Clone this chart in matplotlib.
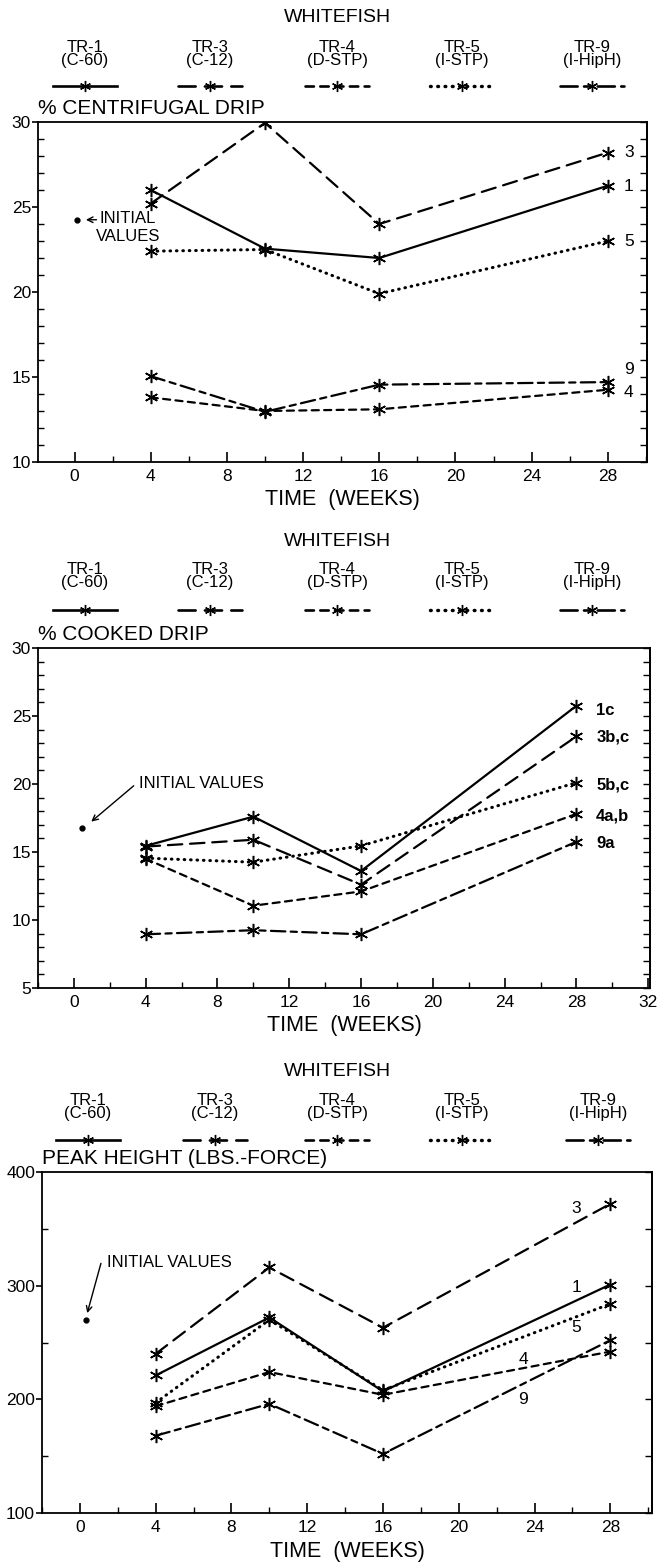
import matplotlib
matplotlib.use('Agg')
import matplotlib.pyplot as plt
from matplotlib.lines import Line2D
from matplotlib.ticker import MultipleLocator

# 글꼴 설정
plt.rcParams['font.family'] = ['Liberation Sans', 'DejaVu Sans']

W, H = 665, 1563

# 측정 시점 (주)
weeks = [4, 10, 16, 28]
treatments = ['TR-1', 'TR-3', 'TR-4', 'TR-5', 'TR-9']
treat_codes = ['(C-60)', '(C-12)', '(D-STP)', '(I-STP)', '(I-HipH)']

# % centrifugal drip
cf_tr1 = [26.0, 22.55, 22.0, 26.25]
cf_tr3 = [25.2, 29.95, 24.0, 28.2]
cf_tr4 = [13.8, 13.0, 13.1, 14.25]
cf_tr5 = [22.4, 22.5, 19.9, 23.0]
cf_tr9 = [15.05, 12.95, 14.55, 14.7]
cf_initial = 24.25
cf_tags = ['1', '3', '4', '5', '9']
cf_tag_y = [26.2, 28.2, 14.1, 23.0, 15.45]

# % cooked drip
ck_tr1 = [15.45, 17.6, 13.6, 25.75]
ck_tr3 = [15.4, 15.9, 12.6, 23.5]
ck_tr4 = [14.5, 11.05, 12.1, 17.8]
ck_tr5 = [14.55, 14.25, 15.45, 20.1]
ck_tr9 = [8.95, 9.25, 8.95, 15.75]
ck_initial = 16.8
ck_tags = ['1c', '3b,c', '4a,b', '5b,c', '9a']
ck_tag_y = [25.4, 23.45, 17.65, 19.95, 15.65]

# peak height (lbs.-force)
pk_tr1 = [221, 272, 207, 301]
pk_tr3 = [240, 316, 263, 372]
pk_tr4 = [194, 224, 204, 242]
pk_tr5 = [197, 270, 208, 284]
pk_tr9 = [168, 196, 152, 252]
pk_initial = 269.5
pk_tags = ['1', '3', '4', '5', '9']
pk_tag_xy = [(26.2, 298), (26.2, 368), (23.4, 235), (26.2, 263), (23.4, 200)]

# 처리구별 선 모양 / 굵기
line_styles = {
    'TR-1': '-',
    'TR-3': (0, (6.5, 3.5)),
    'TR-4': (0, (3.2, 2.4)),
    'TR-5': (0, (0.2, 1.9)),
    'TR-9': (0, (6.5, 2.4, 2.8, 2.4)),
}
line_widths = {'TR-1': 1.6, 'TR-3': 1.6, 'TR-4': 1.6, 'TR-5': 2.2, 'TR-9': 1.6}
STAR = (6, 2, 0)

fig = plt.figure(figsize=(W / 100, H / 100), dpi=100)


def px_rect(l, t, r, b):
    return [l / W, 1 - b / H, (r - l) / W, (b - t) / H]


def header(y_title, y_names, y_lines, xs):
    # 제목 + 처리구 범례
    fig.text(337 / W, 1 - y_title / H, 'WHITEFISH', ha='center', va='center', fontsize=14)
    for name, code, x in zip(treatments, treat_codes, xs):
        fig.text(x / W, 1 - y_names / H, name + '\n' + code, ha='center', va='center',
                 fontsize=12, linespacing=0.85)
        fig.add_artist(Line2D([(x - 32) / W, (x + 32) / W], [1 - y_lines / H] * 2,
                              transform=fig.transFigure, color='black',
                              lw=line_widths[name] + 0.3, linestyle=line_styles[name],
                              dash_capstyle='round'))
        fig.add_artist(Line2D([x / W], [1 - y_lines / H], transform=fig.transFigure,
                              marker=STAR, color='black', markersize=8, mew=1.0, linestyle='none'))


def setup_axes(ax, xlim, xmax_tick, ylim, ymaj, ymin, title):
    ax.set_xlim(*xlim)
    ax.set_ylim(*ylim)
    ax.set_xticks(range(0, xmax_tick + 1, 4))
    ax.xaxis.set_minor_locator(MultipleLocator(2))
    ax.yaxis.set_major_locator(MultipleLocator(ymaj))
    ax.yaxis.set_minor_locator(MultipleLocator(ymin))
    ax.tick_params(axis='x', which='major', direction='in', length=7, width=1.2, labelsize=12.5, pad=5)
    ax.tick_params(axis='x', which='minor', direction='in', length=4, width=1.0)
    ax.tick_params(axis='y', which='major', direction='out', length=4, width=1.2, labelsize=12.5, pad=1)
    ax.tick_params(axis='y', which='minor', direction='in', length=4, width=1.0)
    sec = ax.secondary_yaxis('right')
    sec.yaxis.set_major_locator(MultipleLocator(ymaj))
    sec.yaxis.set_minor_locator(MultipleLocator(ymin))
    sec.tick_params(axis='y', which='both', direction='in', length=5, width=1.0, labelright=False)
    for s in ax.spines.values():
        s.set_linewidth(1.3)
    sec.spines['right'].set_linewidth(1.3)
    ax.set_xlabel('TIME  (WEEKS)', fontsize=15.5, labelpad=4)
    ax.text(0, 1.012, title, transform=ax.transAxes, ha='left', va='bottom', fontsize=15)


def plot_series(ax, data):
    for name, vals in zip(treatments, data):
        ax.plot(weeks, vals, color='black', lw=line_widths[name], linestyle=line_styles[name],
                marker=STAR, markersize=9.5, mew=1.1, dash_capstyle='round')


# ---- 1. centrifugal drip ----
header(18, 54, 86, [85, 210, 337, 462, 592])
ax1 = fig.add_axes(px_rect(38, 122, 647, 462))
setup_axes(ax1, (-1.92, 30.06), 28, (10, 30), 5, 1, '% CENTRIFUGAL DRIP')
plot_series(ax1, [cf_tr1, cf_tr3, cf_tr4, cf_tr5, cf_tr9])
ax1.plot([0.15], [cf_initial], marker='o', color='black', markersize=3.5)
ax1.annotate('', xy=(0.45, cf_initial), xytext=(1.3, cf_initial),
             arrowprops=dict(arrowstyle='->', color='black', lw=1.0))
ax1.text(2.8, cf_initial + 0.5, 'INITIAL\nVALUES', ha='center', va='top', fontsize=12,
         linespacing=1.2)
for t, y in zip(cf_tags, cf_tag_y):
    ax1.text(28.85, y, t, ha='left', va='center', fontsize=12.5)

# ---- 2. cooked drip ----
header(541, 576, 610, [85, 210, 337, 462, 592])
ax2 = fig.add_axes(px_rect(38, 648, 650, 988))
setup_axes(ax2, (-2, 32.1), 32, (5, 30), 5, 1, '% COOKED DRIP')
plot_series(ax2, [ck_tr1, ck_tr3, ck_tr4, ck_tr5, ck_tr9])
ax2.plot([0.47], [ck_initial], marker='o', color='black', markersize=3.5)
ax2.annotate('', xy=(0.85, ck_initial + 0.3), xytext=(3.45, 20.0),
             arrowprops=dict(arrowstyle='->', color='black', lw=1.0))
ax2.text(3.6, 20.0, 'INITIAL VALUES', ha='left', va='center', fontsize=12)
for t, y in zip(ck_tags, ck_tag_y):
    ax2.text(29.1, y, t, ha='left', va='center', fontsize=12, fontweight='bold')

# ---- 3. peak height ----
header(1072, 1107, 1140, [88, 215, 337, 462, 598])
ax3 = fig.add_axes(px_rect(42, 1172, 652, 1513))
setup_axes(ax3, (-2, 30.2), 28, (100, 400), 100, 50, 'PEAK HEIGHT (LBS.-FORCE)')
plot_series(ax3, [pk_tr1, pk_tr3, pk_tr4, pk_tr5, pk_tr9])
ax3.plot([0.3], [pk_initial], marker='o', color='black', markersize=3.5)
ax3.annotate('', xy=(0.35, pk_initial + 4), xytext=(1.15, 322),
             arrowprops=dict(arrowstyle='->', color='black', lw=1.0))
ax3.text(1.45, 320, 'INITIAL VALUES', ha='left', va='center', fontsize=12)
for t, (x, y) in zip(pk_tags, pk_tag_xy):
    ax3.text(x, y, t, ha='center', va='center', fontsize=12.5)

fig.savefig('out.png', dpi=100)
